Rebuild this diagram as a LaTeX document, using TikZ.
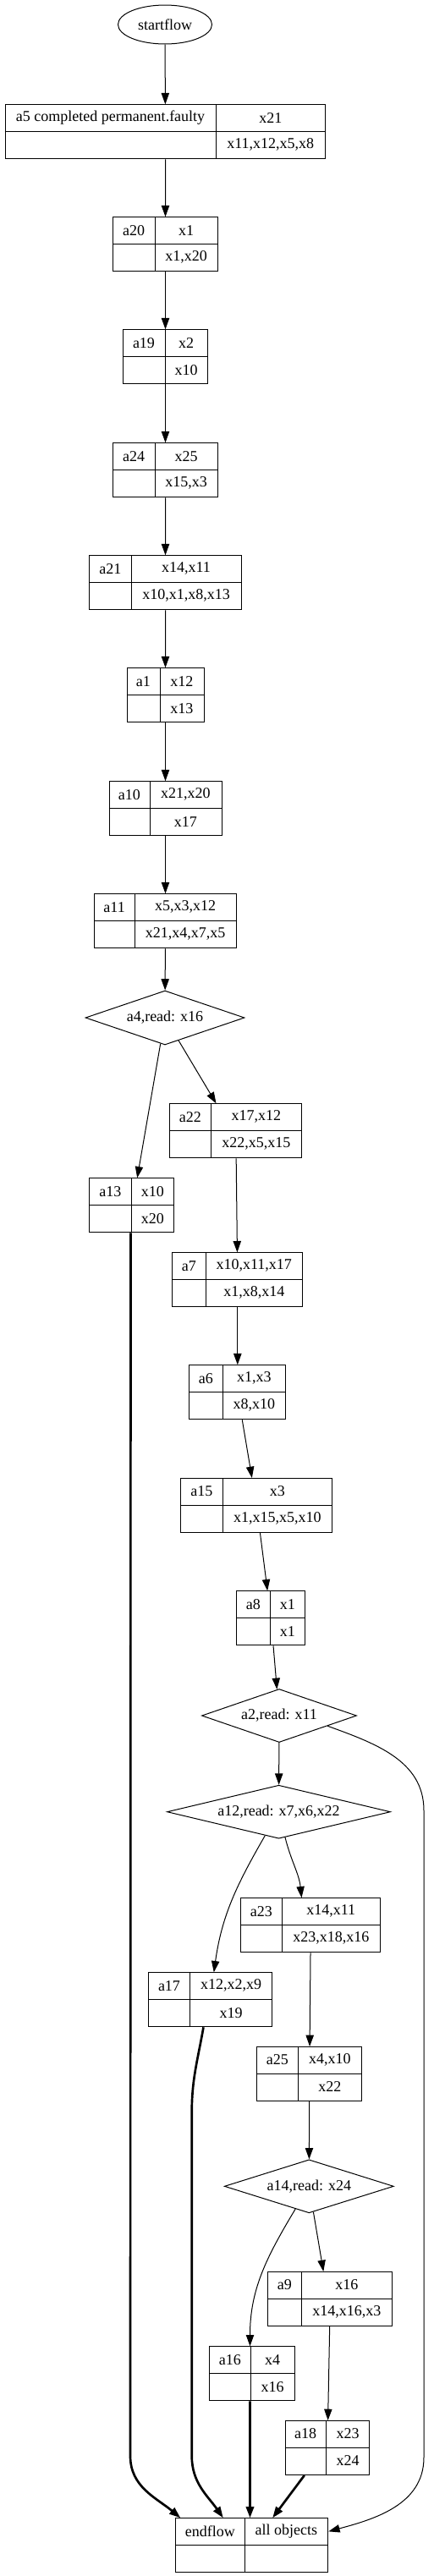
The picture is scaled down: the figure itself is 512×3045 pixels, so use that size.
\documentclass[tikz,border=0pt]{standalone}
\usepackage{fontspec}
\setmainfont{Liberation Serif}
\usetikzlibrary{positioning,arrows.meta,calc,shapes.geometric}

\begin{document}
\begin{tikzpicture}[x=0.75pt,y=-0.75pt,line width=0.75pt,
  >={Triangle[length=10pt,width=7pt]},
  every node/.style={font=\fontsize{13.5}{16}\selectfont},
  box/.style={draw,rectangle,minimum height=48pt,inner sep=0pt},
  dec/.style={draw,diamond,inner sep=0pt},
  link/.style={->},
  heavy/.style={->,line width=2pt}]
  \def\px{0.75pt}
  \useasboundingbox (0,0) rectangle (512,3045);
  % name, left, divider, right, top, label, upper, lower
  \def\recnode#1#2#3#4#5#6#7#8{%
    \node[box,anchor=north west,minimum width={(#4-#2)*\px}] (#1) at (#2,#5) {};
    \draw (#3,#5) -- (#3,#5+64);
    \draw (#1.west) -- (#1.east);
    \node (#1-l) at ({(#2+#3)/2},#5+16) {#6};
    \node (#1-u) at ({(#3+#4)/2},#5+16) {#7};
    \node (#1-d) at ({(#3+#4)/2},#5+48) {#8};
  }
  \node[draw,ellipse,minimum width=111*\px,minimum height=46*\px,inner sep=0pt] (start) at (195,29) {startflow};
  \recnode{a5}{5.7}{255.3}{384.3}{123.3}{a5 completed permanent.faulty}{x21}{x11,x12,x5,x8}
  \recnode{a20}{133}{183.3}{257}{256.3}{a20}{x1}{x1,x20}
  \recnode{a19}{145}{195}{245}{389.3}{a19}{x2}{x10}
  \recnode{a24}{133}{183.3}{257}{523.3}{a24}{x25}{x15,x3}
  \recnode{a21}{105.3}{155.3}{284.7}{656.3}{a21}{x14,x11}{x10,x1,x8,x13}
  \recnode{a1}{149.5}{189.3}{240.5}{789.3}{a1}{x12}{x13}
  \recnode{a10}{128.5}{177.3}{261.5}{923.3}{a10}{x21,x20}{x17}
  \recnode{a11}{111}{159.3}{279}{1056.3}{a11}{x5,x3,x12}{x21,x4,x7,x5}
  \node[dec,minimum width=188*\px,minimum height=64*\px] (a4) at (195,1203) {\makebox[0pt]{a4,read: x16}};
  \recnode{a22}{200.3}{249.3}{356.3}{1304.3}{a22}{x17,x12}{x22,x5,x15}
  \recnode{a13}{105.3}{155.3}{205.3}{1392.3}{a13}{x10}{x20}
  \recnode{a7}{203.3}{243.3}{357.3}{1480.3}{a7}{x10,x11,x17}{x1,x8,x14}
  \recnode{a6}{223.3}{263.3}{337.3}{1613.3}{a6}{x1,x3}{x8,x10}
  \recnode{a15}{213.3}{263.3}{392.3}{1747}{a15}{x3}{x1,x15,x5,x10}
  \recnode{a8}{279.3}{319.3}{360.3}{1880.3}{a8}{x1}{x1}
  \node[dec,minimum width=183*\px,minimum height=63*\px] (a2) at (330,2028) {\makebox[0pt]{a2,read: x11}};
  \node[dec,minimum width=264*\px,minimum height=63*\px] (a12) at (329.5,2141.7) {\makebox[0pt]{a12,read: x7,x6,x22}};
  \recnode{a23}{284.3}{333.3}{449.3}{2243.3}{a23}{x14,x11}{x23,x18,x16}
  \recnode{a17}{175.3}{224.7}{321.3}{2331.3}{a17}{x12,x2,x9}{x19}
  \recnode{a25}{303.3}{352.3}{427.3}{2419}{a25}{x4,x10}{x22}
  \node[dec,minimum width=200*\px,minimum height=63*\px] (a14) at (365.3,2584.3) {\makebox[0pt]{a14,read: x24}};
  \recnode{a9}{316.3}{356.3}{463.3}{2685}{a9}{x16}{x14,x16,x3}
  \recnode{a16}{247.3}{296.3}{347.7}{2773.3}{a16}{x4}{x16}
  \recnode{a18}{336.7}{385.7}{436.3}{2861}{a18}{x23}{x24}
  \recnode{endflow}{207.3}{289.3}{387.3}{2976.3}{endflow}{all objects}{}

  \draw[link] (start) -- (a5);
  \draw[link] (a5) -- (a20);
  \draw[link] (a20) -- (a19);
  \draw[link] (a19) -- (a24);
  \draw[link] (a24) -- (a21);
  \draw[link] (a21) -- (a1);
  \draw[link] (a1) -- (a10);
  \draw[link] (a10) -- (a11);
  \draw[link] (a11) -- (a4);
  \draw[link] (a4) -- ($(a13.north)+(6.4,0)$);
  \draw[link] (a4) -- ($(a22.north)+(-23.3,0)$);
  \draw[link] (a22) -- (a7);
  \draw[link] (a7) -- (a6);
  \draw[link] (a6) -- (a15);
  \draw[link] (a15) -- (a8);
  \draw[link] (a8) -- (a2);
  \draw[link] (a2) -- (a12);
  \draw[link] (a12) to[out=-120,in=82] ($(a17.north)+(4,0)$);
  \draw[link] (a12) to[out=-76,in=96] ($(a23.north)+(-10.8,0)$);
  \draw[link] (a23) -- (a25);
  \draw[link] (a25) -- (a14);
  \draw[link] (a14) -- ($(a9.north)+(-8,0)$);
  \draw[link] (a14) to[out=-121,in=90] ($(a16.north)+(-2.5,0)$);
  \draw[link] (a9) -- (a18);

  \coordinate (r1) at (501,2140);
  \coordinate (r2) at (501,2905);
  \draw[link] ($(a2.east)!0.38!(a2.south)$) to[out=-20,in=90] (r1) -- (r2)
    to[out=-90,in=15] ($(endflow.north east)+(0,16)$);

  \coordinate (l1) at (154,2903);
  \coordinate (m1) at (226.7,2497);
  \coordinate (m2) at (226.7,2903);
  \draw[heavy] ($(a13.south)+(-1.3,0)$) -- (l1) to[out=-90,in=140] ($(endflow.north west)+(6,0)$);
  \draw[heavy] ($(a17.south)+(-8.3,0)$) to[out=-100,in=90] (m1) -- (m2)
    to[out=-90,in=125] ($(endflow.north)+(-34,0)$);
  \draw[heavy] ($(a16.south)+(-2.5,0)$) -- ($(endflow.north)+(-2.3,0)$);
  \draw[heavy] ($(a18.south)+(-27.2,0)$) -- ($(endflow.north)+(24.4,0)$);
\end{tikzpicture}
\end{document}
